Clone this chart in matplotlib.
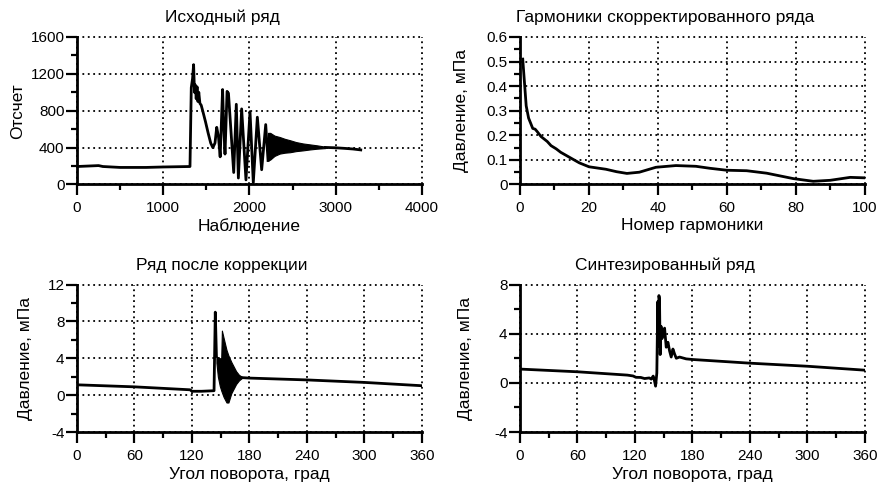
import matplotlib
matplotlib.use("Agg")
import matplotlib.pyplot as plt
from matplotlib.ticker import MultipleLocator, FuncFormatter

plt.rcParams["font.family"] = ["Liberation Sans", "DejaVu Sans"]
plt.rcParams["axes.unicode_minus"] = False

# --- исходный ряд (отсчеты АЦП) ---
raw_x = [0, 250, 300, 500, 800, 1000, 1310, 1325, 1340, 1352, 1362, 1372, 1382,
         1392, 1402, 1412, 1425, 1440, 1460, 1490, 1520, 1550, 1575, 1600, 1620,
         1640, 1660, 1688, 1700, 1716, 1740, 1756, 1817, 1847, 1871, 1909, 1959,
         2006, 2044, 2091, 2141, 2188, 2215]
raw_y = [195, 205, 195, 185, 185, 190, 195, 1050, 1150, 1300, 1000, 1080, 930,
         1060, 900, 1000, 880, 860, 790, 680, 560, 450, 400, 450, 620,
         520, 300, 1030, 650, 330, 1010, 990, 130, 870, 70, 820, 50,
         790, 20, 730, 160, 650, 260]
# затухающий шум после переходного процесса: огибающие
raw_band_x = [2215, 2240, 2290, 2350, 2410, 2470, 2540, 2620, 2700, 2780, 2880]
raw_band_hi = [560, 560, 530, 515, 495, 480, 460, 445, 435, 425, 410]
raw_band_lo = [260, 270, 310, 335, 345, 350, 362, 370, 380, 388, 395]
raw_tail_x = [2880, 3000, 3100, 3200, 3290]
raw_tail_y = [402, 398, 392, 385, 375]

# --- амплитуды гармоник ---
harm_n = [0.8, 1.8, 2.5, 3.7, 4.4, 5, 6.1, 7.9, 9, 10.5, 11.8, 14.3, 17.2, 20,
          24.9, 28, 31, 34.6, 39.4, 45.2, 51, 55, 59.9, 65.7, 71.5, 79.2, 85,
          89.9, 95.7, 100]
harm_p = [0.51, 0.32, 0.27, 0.228, 0.225, 0.215, 0.195, 0.175, 0.158, 0.145,
          0.131, 0.111, 0.088, 0.072, 0.062, 0.052, 0.045, 0.050, 0.070, 0.077,
          0.074, 0.066, 0.058, 0.056, 0.046, 0.024, 0.013, 0.017, 0.029, 0.027]

# --- ряд после коррекции ---
corr_x = [0, 60, 118, 120, 130, 143, 144.3, 145.5]
corr_y = [1.12, 0.9, 0.58, 0.42, 0.42, 0.48, 9.0, 4.2]
corr_band_x = [145.5, 147, 149, 150.5, 151.2, 153, 156, 158, 161, 166, 169, 172]
corr_band_hi = [4.2, 4.1, 4.0, 4.0, 7.0, 6.2, 4.9, 4.3, 3.6, 2.6, 2.2, 2.0]
corr_band_lo = [3.5, 2.0, 1.0, 0.5, 0.3, -0.2, -0.8, -0.8, 0.2, 1.2, 1.6, 1.85]
corr_tail_x = [172, 180, 240, 300, 360]
corr_tail_y = [1.9, 1.85, 1.65, 1.38, 1.02]

# --- синтезированный ряд ---
synt_x = [0, 60, 112, 118, 121, 126, 130, 135, 137, 139, 140, 141.5, 142.8,
          143.8, 144.3, 145.0, 145.6, 146.3, 147.2, 148.2, 149.2, 150.9, 152.6,
          154.4, 156.1, 157.8, 159.6, 161.3, 163.1, 166.5, 173.4, 180, 240,
          300, 360]
synt_y = [1.12, 0.9, 0.63, 0.56, 0.45, 0.44, 0.35, 0.4, 0.3, 0.55, 0.3, -0.27,
          0.8, 6.6, 3.0, 7.1, 6.8, 2.3, 4.6, 3.6, 4.0, 4.45, 2.9,
          3.3, 2.6, 2.1, 2.75, 2.35, 2.0, 2.1, 1.95, 1.9, 1.6,
          1.35, 1.03]

LW = 2.0
GRID = dict(color="black", linestyle=(0, (1, 2)), linewidth=1.3)
TITLE_FS = 12.5
LABEL_FS = 12.5


def style_axes(ax, xlim, ylim, xstep, ystep, fmt="%g"):
    ax.set_xlim(*xlim)
    ax.set_ylim(*ylim)
    ax.xaxis.set_major_locator(MultipleLocator(xstep))
    ax.xaxis.set_minor_locator(MultipleLocator(xstep / 2))
    ax.yaxis.set_major_locator(MultipleLocator(ystep))
    ax.yaxis.set_minor_locator(MultipleLocator(ystep / 2))
    ax.yaxis.set_major_formatter(FuncFormatter(lambda v, _: fmt % v))
    ax.spines[["top", "right"]].set_visible(False)
    ax.spines[["left", "bottom"]].set_linewidth(2)
    ax.tick_params(which="major", direction="out", length=8, width=1.6,
                   labelsize=11)
    ax.tick_params(which="minor", direction="out", length=4.5, width=1.6)
    ax.tick_params(axis="x", which="major", pad=4)
    ax.tick_params(axis="y", which="major", pad=1)
    ax.grid(True, which="major", **GRID)
    for gl in ax.get_xgridlines() + ax.get_ygridlines():
        gl.set_clip_on(False)
    ax.set_axisbelow(True)


fig, axes = plt.subplots(2, 2, figsize=(8.82, 4.84), dpi=100)
fig.subplots_adjust(left=0.0873, right=0.9807, top=0.9236, bottom=0.1074,
                    wspace=0.284, hspace=0.678)
ax1, ax2, ax3, ax4 = axes.ravel()

# исходный ряд
ax1.plot(raw_x, raw_y, color="black", lw=LW)
ax1.fill_between(raw_band_x, raw_band_lo, raw_band_hi, color="black", lw=0.8)
ax1.plot(raw_tail_x, raw_tail_y, color="black", lw=LW)
style_axes(ax1, (0, 4000), (0, 1600), 1000, 400)
ax1.set_title("Исходный ряд", fontsize=TITLE_FS, x=0.42, pad=10.5)
ax1.set_xlabel("Наблюдение", fontsize=LABEL_FS)
ax1.set_ylabel("Отсчет", fontsize=LABEL_FS)

# гармоники
ax2.plot(harm_n, harm_p, color="black", lw=LW)
style_axes(ax2, (0, 100), (0, 0.6), 20, 0.1)
ax2.set_title("Гармоники скорректированного ряда", fontsize=TITLE_FS, x=0.42, pad=10.5)
ax2.set_xlabel("Номер гармоники", fontsize=LABEL_FS)
ax2.set_ylabel("Давление, мПа", fontsize=LABEL_FS)

# ряд после коррекции
ax3.plot(corr_x, corr_y, color="black", lw=LW)
ax3.fill_between(corr_band_x, corr_band_lo, corr_band_hi, color="black", lw=0.8)
ax3.plot(corr_tail_x, corr_tail_y, color="black", lw=LW)
style_axes(ax3, (0, 360), (-4, 12), 60, 4)
ax3.set_title("Ряд после коррекции", fontsize=TITLE_FS, x=0.42, pad=10.5)
ax3.set_xlabel("Угол поворота, град", fontsize=LABEL_FS)
ax3.set_ylabel("Давление, мПа", fontsize=LABEL_FS)

# синтезированный ряд
ax4.plot(synt_x, synt_y, color="black", lw=LW)
style_axes(ax4, (0, 360), (-4, 8), 60, 4)
ax4.set_title("Синтезированный ряд", fontsize=TITLE_FS, x=0.42, pad=10.5)
ax4.set_xlabel("Угол поворота, град", fontsize=LABEL_FS)
ax4.set_ylabel("Давление, мПа", fontsize=LABEL_FS)

for ax, lx, ly in zip(axes.ravel(), [-0.15, -0.147, -0.128, -0.137],
                      [-0.225, -0.225, -0.235, -0.235]):
    ax.yaxis.set_label_coords(lx, 0.5)
    ax.xaxis.set_label_coords(0.5, ly)

fig.savefig("out.png", dpi=100)
